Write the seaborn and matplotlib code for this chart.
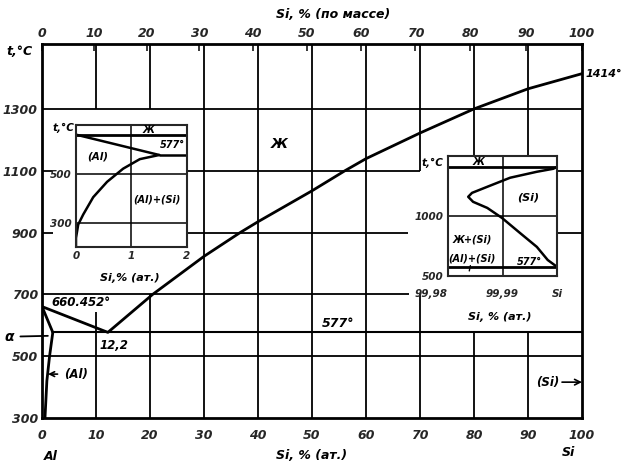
import numpy as np
import pandas as pd
import matplotlib.pyplot as plt
import seaborn as sns

# main diagram: Si, at.% vs t, °C
liq_x = [0, 12.2, 20.5, 30, 36.7, 40, 50, 56.1, 60, 70, 80, 90, 100]
liq_t = [660.452, 577, 700, 823, 900, 935, 1035, 1100, 1139, 1222, 1300, 1365, 1414]
sol_x = [0, 2.0]
sol_t = [660.452, 577]
solv_x = [2.0, 1.4, 0.9, 0.55]
solv_t = [577, 500, 420, 300]
eut_x = [2.0, 100]
eut_t = [577, 577]

# left inset (Al corner)
l_solv_x = [1.5, 1.15, 0.85, 0.56, 0.31, 0.13, 0.04, 0.0, 0.0]
l_solv_t = [577, 560, 521, 467, 404, 333, 292, 237, 200]
l_sol_x = [0, 1.5]
l_sol_t = [660.452, 577]

# right inset (Si corner)
r_x = [100, 99.9993, 99.9963, 99.9914, 99.9872, 99.9844, 99.9837, 99.9846,
       99.9872, 99.9899, 99.9932, 99.9963, 99.9983, 100]
r_t = [1414, 1399, 1374, 1324, 1248, 1197, 1164, 1122, 1071, 987, 861, 744, 634, 577]

main_yticks = [300, 500, 700, 900, 1100, 1300]
main_xticks = list(range(0, 101, 10))

sns.set_style("white")
plt.rcParams['font.family'] = ['DejaVu Sans']
F = dict(style='italic', weight='bold', color='black')


def at2wt(a):
    a = np.asarray(a, dtype=float)
    return 100 * a * 28.086 / (a * 28.086 + (100 - a) * 26.982)


def wt2at(w):
    w = np.asarray(w, dtype=float)
    return 100 * (w / 28.086) / (w / 28.086 + (100 - w) / 26.982)


fig = plt.figure(figsize=(6.26, 4.66), dpi=100)
ax = fig.add_axes([0.0671, 0.103, 0.8626, 0.8026])
ax.set_xlim(0, 100)
ax.set_ylim(300, 1510)

# grid pieces (broken where the insets and their labels sit)
h_grid = {1300: [(0, 100)], 1100: [(0, 2), (26.7, 70), (95.4, 100)],
          900: [(0, 2), (26.7, 67.8), (95.4, 100)], 700: [(0, 68)], 500: [(0, 100)]}
v_grid = {10: [(1300, 1510), (300, 642)], 20: [(1300, 1510), (300, 700)],
          30: [(300, 1510)], 40: [(300, 1510)], 50: [(300, 1510)], 60: [(300, 1510)],
          70: [(1100, 1510), (300, 700)], 80: [(1145, 1510), (300, 577)],
          90: [(1145, 1510), (300, 577)]}
for t, segs in h_grid.items():
    for a, b in segs:
        ax.hlines(t, a, b, color='black', lw=1.3)
for x, segs in v_grid.items():
    for a, b in segs:
        ax.vlines(x, a, b, color='black', lw=1.3)

for xs, ts, lw in [(liq_x, liq_t, 2), (sol_x, sol_t, 2), (solv_x, solv_t, 2), (eut_x, eut_t, 1.5)]:
    sns.lineplot(x=xs, y=ts, ax=ax, color='black', lw=lw, sort=False, estimator=None)

for s in ax.spines.values():
    s.set_linewidth(2)
    s.set_color('black')
ax.set_xticks(main_xticks)
ax.set_yticks(main_yticks)
ax.tick_params(length=0, labelsize=9, pad=8)
ax.tick_params(axis='y', pad=3)
for lab in ax.get_xticklabels() + ax.get_yticklabels():
    lab.set_fontstyle('italic')
    lab.set_fontweight('bold')

top = ax.secondary_xaxis('top', functions=(at2wt, wt2at))
top.set_xticks(main_xticks)
top.tick_params(direction='in', length=5, width=1.3, labelsize=9, pad=3)
for lab in top.get_xticklabels():
    lab.set_fontstyle('italic')
    lab.set_fontweight('bold')

ax.text(-4.1, 1487, 't,°C', ha='center', va='center', fontsize=9, **F)
ax.text(53.9, 1606, 'Si, % (по массе)', ha='center', va='center', fontsize=9, **F)
ax.text(50, 180, 'Si, % (ат.)', ha='center', va='center', fontsize=9, **F)
ax.text(1.7, 174, 'Al', ha='center', va='center', fontsize=9, **F)
ax.text(97.4, 190, 'Si', ha='center', va='center', fontsize=9, **F)
ax.text(100.6, 1413, '1414°', ha='left', va='center', fontsize=8, **F)
ax.text(44, 1187, 'Ж', ha='center', va='center', fontsize=10, **F)
ax.text(54.8, 606, '577°', ha='center', va='center', fontsize=9, **F)
ax.text(7.2, 674, '660.452°', ha='center', va='center', fontsize=8.5, **F)
ax.text(13.3, 535, '12,2', ha='center', va='center', fontsize=8.5, **F)
ax.annotate('α', xy=(1.6, 566), xytext=(-6, 563), ha='center', va='center',
            fontsize=10, annotation_clip=False,
            arrowprops=dict(arrowstyle='-', color='black', lw=1.3), **F)
ax.annotate('(Al)', xy=(0.6, 442), xytext=(4, 442), ha='left', va='center',
            fontsize=8.5, arrowprops=dict(arrowstyle='->', color='black', lw=1.2), **F)
ax.text(95.8, 416, '(Si)', ha='right', va='center', fontsize=8.5, **F)
ax.annotate('', xy=(100, 416), xytext=(96.3, 416),
            arrowprops=dict(arrowstyle='->', color='black', lw=1.2, shrinkA=0, shrinkB=0))

# left inset
axl = fig.add_axes([0.1214, 0.4700, 0.1773, 0.2618], zorder=3)
axl.set_facecolor('white')
axl.set_xlim(0, 2)
axl.set_ylim(200, 700)
axl.axvline(1, color='black', lw=1.1)
axl.axhline(500, color='black', lw=1.1)
axl.axhline(300, color='black', lw=1.1)
axl.hlines(660.452, 0, 2, color='black', lw=2)
axl.hlines(577, 1.5, 2, color='black', lw=1.8)
for xs, ts in [(l_sol_x, l_sol_t), (l_solv_x, l_solv_t)]:
    sns.lineplot(x=xs, y=ts, ax=axl, color='black', lw=1.8, sort=False, estimator=None)
for s in axl.spines.values():
    s.set_linewidth(1.5)
axl.set_xticks([0, 1, 2])
axl.set_yticks([300, 500])
axl.tick_params(length=0, labelsize=7.5, pad=3)
for lab in axl.get_xticklabels() + axl.get_yticklabels():
    lab.set_fontstyle('italic')
    lab.set_fontweight('bold')
axl.set_xlabel('')
axl.set_ylabel('')
axl.text(-0.23, 687, 't,°C', ha='center', va='center', fontsize=7.5, **F)
axl.text(1.30, 679, 'Ж', ha='center', va='center', fontsize=7, **F)
axl.text(1.73, 617, '577°', ha='center', va='center', fontsize=7, **F)
axl.text(0.40, 571, '(Al)', ha='center', va='center', fontsize=7.5, **F)
axl.text(1.46, 396, '(Al)+(Si)', ha='center', va='center', fontsize=7, **F)
axl.text(0.97, 71, 'Si,% (ат.)', ha='center', va='center', fontsize=8, clip_on=False, **F)

# right inset
axr = fig.add_axes([0.7157, 0.4077, 0.1741, 0.2575], zorder=3)
axr.set_facecolor('white')
axr.set_xlim(99.98, 100)
axr.set_ylim(500, 1506)
axr.axvline(99.99, color='black', lw=1.1)
axr.axhline(1000, color='black', lw=1.1)
axr.hlines(1414, 99.98, 100, color='black', lw=2)
axr.hlines(577, 99.98, 100, color='black', lw=2)
sns.lineplot(x=r_x, y=r_t, ax=axr, color='black', lw=1.8, sort=False, estimator=None)
for s in axr.spines.values():
    s.set_linewidth(1.5)
axr.set_xticks([99.98, 99.99, 100])
axr.set_xticklabels(['99,98', '99,99', 'Si'])
axr.set_yticks([500, 1000])
axr.set_yticklabels(['500', '1000'])
axr.tick_params(length=0, labelsize=7.5, pad=3)
axr.tick_params(axis='x', pad=9)
for lab in axr.get_xticklabels() + axr.get_yticklabels():
    lab.set_fontstyle('italic')
    lab.set_fontweight('bold')
axr.get_xticklabels()[0].set_ha('right')
axr.set_xlabel('')
axr.set_ylabel('')
axr.text(99.97706, 1450, 't,°C', ha='center', va='center', fontsize=7.5, clip_on=False, **F)
axr.text(99.9855, 1455, 'Ж', ha='center', va='center', fontsize=7, **F)
axr.text(99.9947, 1155, '(Si)', ha='center', va='center', fontsize=8, **F)
axr.text(99.9844, 803, 'Ж+(Si)', ha='center', va='center', fontsize=7, **F)
axr.text(99.9844, 651, '(Al)+(Si)', ha='center', va='center', fontsize=7, **F)
axr.text(99.995, 618, '577°', ha='center', va='center', fontsize=7, **F)
axr.annotate('', xy=(99.9838, 520), xytext=(99.9842, 610),
             arrowprops=dict(arrowstyle='-', color='black', lw=1))
axr.text(99.9895, 160, 'Si, % (ат.)', ha='center', va='center', fontsize=8, clip_on=False, **F)

fig.savefig('out.png', dpi=100)
